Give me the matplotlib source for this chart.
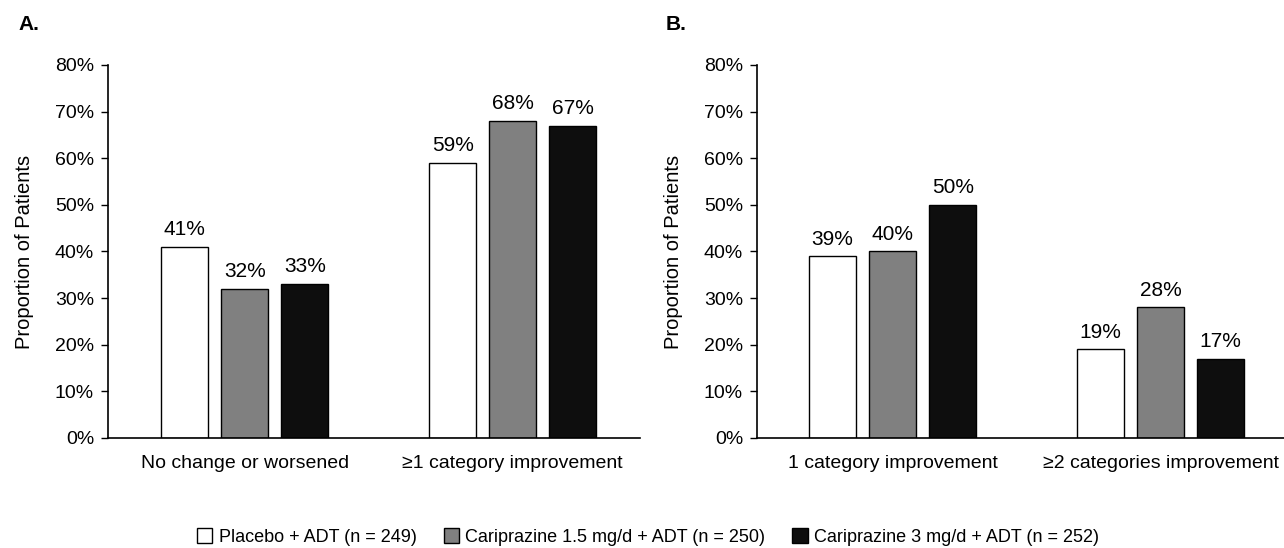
import matplotlib
matplotlib.use("Agg")
import matplotlib.pyplot as plt
from matplotlib.patches import Patch
import numpy as np

plt.rcParams['font.family'] = ['Liberation Sans', 'DejaVu Sans']

# Data
treatments = ["Placebo + ADT (n = 249)",
              "Cariprazine 1.5 mg/d + ADT (n = 250)",
              "Cariprazine 3 mg/d + ADT (n = 252)"]
colors = ["#ffffff", "#808080", "#0e0e0e"]

cats_a = ["No change or worsened", "\u22651 category improvement"]
vals_a = {
    "placebo": [41, 59],
    "carip_15": [32, 68],
    "carip_3": [33, 67],
}

cats_b = ["1 category improvement", "\u22652 categories improvement"]
vals_b = {
    "placebo": [39, 19],
    "carip_15": [40, 28],
    "carip_3": [50, 17],
}

yticks = [0, 10, 20, 30, 40, 50, 60, 70, 80]

fig = plt.figure(figsize=(12.84, 5.48), dpi=100)
ax_a = fig.add_axes([108 / 1284, 1 - 438 / 548, 532 / 1284, 373 / 548])
ax_b = fig.add_axes([757 / 1284, 1 - 438 / 548, 527 / 1284, 373 / 548])

bar_w = 0.176
step = 0.224


def draw_panel(ax, cats, vals, xlim):
    x = np.arange(len(cats))
    for i, key in enumerate(["placebo", "carip_15", "carip_3"]):
        pos = x + (i - 1) * step
        bars = ax.bar(pos, vals[key], width=bar_w, color=colors[i],
                      edgecolor="black", linewidth=1.0, zorder=2)
        for b, v in zip(bars, vals[key]):
            ax.annotate(f"{v}%", (b.get_x() + b.get_width() / 2, v),
                        xytext=(0, 5.5), textcoords="offset points",
                        ha="center", va="bottom", fontsize=15)
    ax.set_xlim(*xlim)
    ax.set_ylim(0, 80)
    ax.set_yticks(yticks)
    ax.set_yticklabels([f"{t}%" for t in yticks], fontsize=14)
    ax.set_xticks(x)
    ax.set_xticklabels(cats, fontsize=14)
    ax.tick_params(axis="x", length=0, pad=12)
    ax.tick_params(axis="y", length=5, width=1, pad=5, direction="out")
    for s in ["top", "right"]:
        ax.spines[s].set_visible(False)
    for s in ["left", "bottom"]:
        ax.spines[s].set_linewidth(1.2)
    ax.set_ylabel("Proportion of Patients", fontsize=14.5, labelpad=15)


draw_panel(ax_a, cats_a, vals_a, (-0.51, 1.475))
draw_panel(ax_b, cats_b, vals_b, (-0.506, 1.46))

fig.text(18 / 1284, 1 - 25 / 548, "A.", fontsize=15, fontweight="bold",
         va="center", ha="left")
fig.text(666 / 1284, 1 - 25 / 548, "B.", fontsize=15, fontweight="bold",
         va="center", ha="left")

handles = [Patch(facecolor=c, edgecolor="black", linewidth=1.0) for c in colors]
fig.legend(handles, treatments, loc="center", bbox_to_anchor=(648 / 1284, 1 - 537 / 548),
           ncol=3, frameon=False, fontsize=13, handlelength=0.85, handleheight=0.85,
           handletextpad=0.35, columnspacing=1.5)

fig.savefig("out.png", dpi=100, facecolor="white")
